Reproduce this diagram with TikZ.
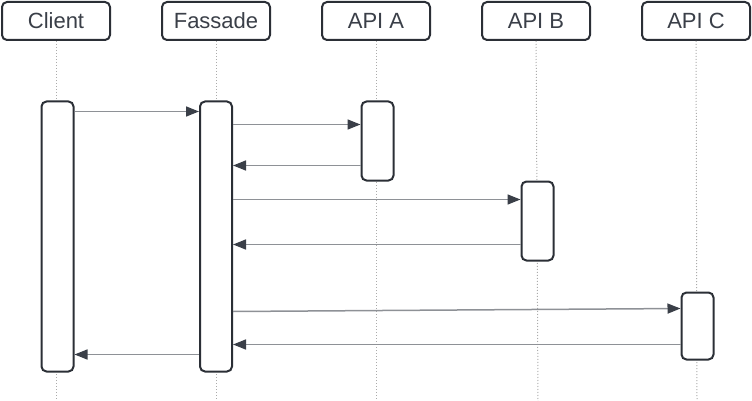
\documentclass[tikz,border=0pt]{standalone}
\usepackage{fontspec}
\setmainfont{Liberation Sans}
\usetikzlibrary{arrows,arrows.meta,automata}
\definecolor{ink}{HTML}{2B2F36}
\definecolor{txt}{HTML}{3A3F48}
\definecolor{wire}{HTML}{8E9196}
\definecolor{lifegray}{HTML}{ABABAB}
\tikzset{head/.style={draw=ink,fill=white,line width=2pt,rounded corners=5pt,minimum width=108pt,minimum height=38pt,inner sep=0pt,text=txt,font=\fontsize{22}{22}\selectfont},
  act/.style={draw=ink,fill=white,line width=2pt,rounded corners=5pt,minimum width=32pt,inner sep=0pt},
  msg/.style={draw=wire,line width=1.5pt,-{Triangle[length=13pt,width=10pt,color=txt]}},
  lifeline/.style={draw=lifegray,line width=1pt,dotted}}

\begin{document}
\begin{tikzpicture}[x=1pt,y=-1pt]
\useasboundingbox (0,0) rectangle (752,401);
% headers
\draw (56,21)  node[head] (client)  {Client};
\draw (216,21) node[head] (fassade) {Fassade};
\draw (376,21) node[head] (apiA)    {API A};
\draw (536,21) node[head] (apiB)    {API B};
\draw (696,21) node[head] (apiC)    {API C};

% lifelines
\coordinate (clientEnd)  at (56,401);
\coordinate (fassadeEnd) at (216,401);
\coordinate (apiAEnd)    at (376,401);
\coordinate (apiBEnd)    at (538,401);
\coordinate (apiCEnd)    at (697,401);
\draw[lifeline] (client)  -- (clientEnd);
\draw[lifeline] (fassade) -- (fassadeEnd);
\draw[lifeline] (apiA)    -- (apiAEnd);
\draw[lifeline] (apiB)    -- (apiBEnd);
\draw[lifeline] (apiC)    -- (apiCEnd);

% activations
\draw (57.5,236.5) node[act,minimum height=270pt] (clientAct) {};
\draw (216,236.5)  node[act,minimum height=270pt] (fassadeAct) {};
\draw (377.5,141)  node[act,minimum height=79pt]  (apiAAct) {};
\draw (537.5,221)  node[act,minimum height=79pt]  (apiBAct) {};
\draw (697.5,326)  node[act,minimum height=67pt]  (apiCAct) {};

% messages
\draw[msg] ([yshift=-11pt]clientAct.north east)  -- ([yshift=-11pt]fassadeAct.north west);
\draw[msg] ([yshift=-24pt]fassadeAct.north east) -- ([yshift=-24pt]apiAAct.north west);
\draw[msg] ([yshift=-65pt]apiAAct.north west)    -- ([yshift=-65pt]fassadeAct.north east);
\draw[msg] ([yshift=-99pt]fassadeAct.north east) -- ([yshift=-19pt]apiBAct.north west);
\draw[msg] ([yshift=-64pt]apiBAct.north west)    -- ([yshift=-144pt]fassadeAct.north east);
\draw[msg] ([yshift=-211pt]fassadeAct.north east) -- ([yshift=-17pt]apiCAct.north west);
\draw[msg] ([yshift=-53pt]apiCAct.north west)    -- ([yshift=-244pt]fassadeAct.north east);
\draw[msg] ([yshift=-254pt]fassadeAct.north west) -- ([yshift=-254pt]clientAct.north east);
\end{tikzpicture}
\end{document}
